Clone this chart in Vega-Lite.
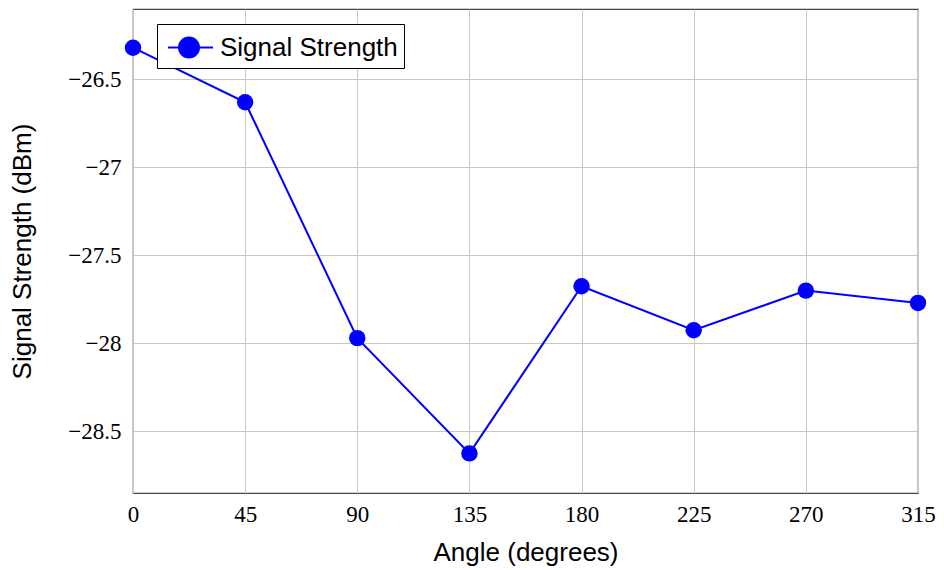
{
  "$schema": "https://vega.github.io/schema/vega-lite/v6.json",
  "autosize": "none",
  "padding": {"left": 133, "top": 9, "right": 26, "bottom": 77},
  "width": 785,
  "height": 484,
  "background": "white",
  "config": {
    "view": {"stroke": "#444", "strokeWidth": 1.2},
    "axis": {
      "gridColor": "#c8c8c8",
      "gridWidth": 1,
      "domain": false,
      "ticks": false,
      "labelFont": "Liberation Serif",
      "labelFontSize": 23,
      "labelColor": "black",
      "titleFont": "Liberation Sans",
      "titleFontSize": 26,
      "titleFontWeight": "normal",
      "titleColor": "black"
    }
  },
  "data": {
    "values": [
      {"angle": 0, "signal": -26.32, "series": "Signal Strength"},
      {"angle": 45, "signal": -26.63, "series": "Signal Strength"},
      {"angle": 90, "signal": -27.97, "series": "Signal Strength"},
      {"angle": 135, "signal": -28.625, "series": "Signal Strength"},
      {"angle": 180, "signal": -27.675, "series": "Signal Strength"},
      {"angle": 225, "signal": -27.925, "series": "Signal Strength"},
      {"angle": 270, "signal": -27.70, "series": "Signal Strength"},
      {"angle": 315, "signal": -27.77, "series": "Signal Strength"}
    ]
  },
  "encoding": {
    "x": {
      "field": "angle",
      "type": "quantitative",
      "scale": {"domain": [0, 315], "nice": false, "zero": false},
      "axis": {"values": [0, 45, 90, 135, 180, 225, 270, 315], "title": "Angle (degrees)", "labelPadding": 10, "titlePadding": 13, "labelFlush": false}
    },
    "y": {
      "field": "signal",
      "type": "quantitative",
      "scale": {"domain": [-28.85, -26.1], "nice": false, "zero": false},
      "axis": {"values": [-28.5, -28, -27.5, -27, -26.5], "format": ".1~f", "title": "Signal Strength (dBm)", "labelPadding": 12, "titlePadding": 32}
    },
    "color": {
      "field": "series",
      "type": "nominal",
      "scale": {"range": ["#0000ff"]},
      "legend": {
        "title": null,
        "orient": "none",
        "legendX": 24,
        "legendY": 15,
        "strokeColor": "black",
        "fillColor": "white",
        "padding": 6,
        "labelFont": "Liberation Sans",
        "labelFontSize": 26,
        "labelLimit": 400,
        "labelColor": "black",
        "labelOffset": 22,
        "symbolType": "M-0.758,0H1.97M1.121,0A0.606,0.606,0,1,1,-0.091,0A0.606,0.606,0,1,1,1.121,0Z",
        "symbolSize": 1089,
        "symbolFillColor": "#0000ff",
        "symbolStrokeColor": "#0000ff",
        "symbolStrokeWidth": 2,
        "symbolOpacity": 1
      }
    }
  },
  "layer": [
    {"mark": {"type": "line", "strokeWidth": 2}},
    {"mark": {"type": "point", "filled": true, "size": 270, "opacity": 1}}
  ]
}
